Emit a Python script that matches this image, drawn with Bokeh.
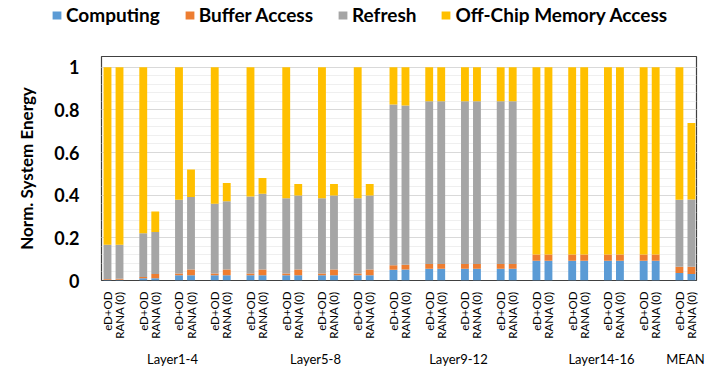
import numpy as np
from bokeh.plotting import figure
from bokeh.layouts import column
from bokeh.models import (ColumnDataSource, FixedTicker, CustomJSTickFormatter, LinearAxis,
                          Legend, LegendItem, Range1d)
from bokeh.embed import file_html
from bokeh.resources import INLINE

# ---------------- data ----------------
series = ["Computing", "Buffer Access", "Refresh", "Off-Chip Memory Access"]
colors = ["#5B9BD5", "#ED7D31", "#A5A5A5", "#FFC000"]
bar_labels = ["eD+OD", "RANA (0)"]
group_labels = ["Layer1-4", "Layer5-8", "Layer9-12", "Layer14-16", "MEAN"]

# eD+OD bars (17 entries: 16 layer groups + MEAN)
ed_computing = [0.004, 0.010, 0.025, 0.025, 0.025, 0.025, 0.025, 0.025,
                0.050, 0.055, 0.055, 0.055, 0.092, 0.092, 0.092, 0.092, 0.035]
ed_buffer = [0.003, 0.006, 0.008, 0.008, 0.008, 0.008, 0.008, 0.008,
             0.022, 0.022, 0.022, 0.022, 0.030, 0.030, 0.030, 0.030, 0.030]
ed_refresh = [0.161, 0.206, 0.346, 0.327, 0.361, 0.353, 0.353, 0.353,
              0.753, 0.763, 0.763, 0.763, 0.000, 0.000, 0.000, 0.000, 0.314]
ed_offchip = [0.832, 0.778, 0.621, 0.640, 0.606, 0.614, 0.614, 0.614,
              0.175, 0.160, 0.160, 0.160, 0.878, 0.878, 0.878, 0.878, 0.621]

# RANA (0) bars
rana_computing = [0.004, 0.010, 0.025, 0.025, 0.025, 0.025, 0.025, 0.025,
                  0.052, 0.055, 0.055, 0.055, 0.092, 0.092, 0.092, 0.092, 0.030]
rana_buffer = [0.004, 0.020, 0.027, 0.027, 0.027, 0.027, 0.027, 0.027,
               0.022, 0.022, 0.022, 0.022, 0.030, 0.030, 0.030, 0.030, 0.035]
rana_refresh = [0.160, 0.197, 0.339, 0.320, 0.355, 0.347, 0.347, 0.347,
                0.746, 0.763, 0.763, 0.763, 0.000, 0.000, 0.000, 0.000, 0.315]
rana_offchip = [0.832, 0.097, 0.129, 0.085, 0.073, 0.053, 0.053, 0.053,
                0.180, 0.160, 0.160, 0.160, 0.878, 0.878, 0.878, 0.878, 0.358]

y_ticks = [0, 0.2, 0.4, 0.6, 0.8, 1.0]

# ---------------- layout constants ----------------
n = len(ed_computing)
OFF = 0.168
BAR_W = 0.22
pair_x = np.arange(n, dtype=float)
group_pos = [1.65, 5.65, 9.65, 13.65, 16.0]

FONT = "Lato"
W = 712
LEG_H = 34
MAIN_H = 338

src_ed = ColumnDataSource(dict(x=pair_x - OFF, **{
    series[0]: ed_computing, series[1]: ed_buffer,
    series[2]: ed_refresh, series[3]: ed_offchip}))
src_rana = ColumnDataSource(dict(x=pair_x + OFF, **{
    series[0]: rana_computing, series[1]: rana_buffer,
    series[2]: rana_refresh, series[3]: rana_offchip}))

p = figure(width=W, height=MAIN_H, output_backend="svg", toolbar_location=None,
           x_range=Range1d(-0.336, 16.31), y_range=Range1d(0, 1.05),
           min_border_left=101, min_border_right=16, min_border_top=22,
           min_border_bottom=92)
p.frame_align = False

p.vbar_stack(series, x="x", width=BAR_W, color=colors, line_color=None, source=src_ed)
p.vbar_stack(series, x="x", width=BAR_W, color=colors, line_color=None, source=src_rana)

# frame
p.outline_line_color = "#404040"
p.outline_line_width = 1.2
p.background_fill_color = "white"

# y axis
yax = p.yaxis[0]
yax.ticker = FixedTicker(ticks=y_ticks, minor_ticks=list(np.round(np.arange(0, 1.001, 0.04), 2)))
yax.formatter = CustomJSTickFormatter(code="return tick.toFixed(1).replace(/\\.0$/, '');")
yax.axis_label = "Norm. System Energy"
yax.axis_label_text_font = FONT
yax.axis_label_text_font_style = "bold"
yax.axis_label_text_font_size = "17px"
yax.axis_label_text_color = "black"
yax.axis_label_standoff = 14
yax.major_label_text_font = FONT
yax.major_label_text_font_style = "bold"
yax.major_label_text_font_size = "18px"
yax.major_label_text_color = "black"
yax.major_label_standoff = 16
yax.axis_line_color = None
yax.major_tick_line_color = None
yax.minor_tick_line_color = None

p.ygrid.grid_line_color = "#d9d9d9"
p.ygrid.minor_grid_line_color = "#efefef"
p.xgrid.grid_line_color = None

# x axis (bar labels)
xax = p.xaxis[0]
xax.ticker = FixedTicker(ticks=sorted(list(pair_x - OFF) + list(pair_x + OFF)))
xax.formatter = CustomJSTickFormatter(args=dict(labels=bar_labels),
    code="const f = tick - Math.round(tick); return f < 0 ? labels[0] : labels[1];")
xax.major_label_orientation = np.pi / 2
xax.major_label_text_font = FONT
xax.major_label_text_font_size = "11.5px"
xax.major_label_text_color = "black"
xax.major_label_standoff = 5
xax.axis_line_color = None
xax.major_tick_line_color = None
xax.minor_tick_line_color = None

# group axis
gax = LinearAxis(ticker=FixedTicker(ticks=group_pos),
                 formatter=CustomJSTickFormatter(args=dict(pos=group_pos, labels=group_labels),
                     code="let b = 0; for (let i = 0; i < pos.length; i++) { if (Math.abs(pos[i]-tick) < Math.abs(pos[b]-tick)) b = i; } return labels[b];"))
gax.major_label_text_font = FONT
gax.major_label_text_font_size = "13px"
gax.major_label_text_color = "black"
gax.major_label_standoff = 3
gax.axis_line_color = None
gax.major_tick_line_color = None
gax.minor_tick_line_color = None
p.add_layout(gax, "below")

# legend figure on top
lf = figure(width=W, height=LEG_H, output_backend="svg", toolbar_location=None,
            x_range=Range1d(0, 1), y_range=Range1d(0, 1),
            x_axis_location=None, y_axis_location=None,
            min_border=0, outline_line_color=None)
lf.frame_align = False
lf.grid.visible = False
dummy = [lf.rect(x=[-5], y=[-5], width=1, height=1, color=c, line_color=None) for c in colors]
legend = Legend(items=[LegendItem(label=s, renderers=[r]) for s, r in zip(series, dummy)],
                orientation="horizontal", location=(51, 8))
legend.label_text_font = FONT
legend.label_text_font_style = "bold"
legend.label_text_font_size = "19px"
legend.label_text_color = "black"
legend.glyph_width = 11
legend.glyph_height = 10
legend.label_standoff = 4
legend.spacing = 24
legend.padding = 0
legend.margin = 0
legend.border_line_color = None
legend.background_fill_alpha = 0
lf.add_layout(legend, "center")

layout = column(lf, p, spacing=0)
open("out.html", "w").write(file_html(layout, INLINE))
